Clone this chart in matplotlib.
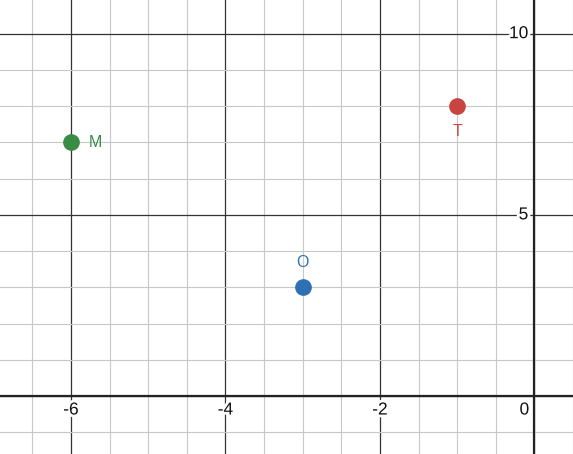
import numpy as np
import matplotlib.pyplot as plt
from matplotlib.ticker import MultipleLocator
import matplotlib.patheffects as pe

# Points
names = ["M", "T", "O"]
xs = [-6, -1, -3]
ys = [7, 8, 3]
colors = ["#388c46", "#c74440", "#2d70b3"]
# label offsets in pixels
offsets = [(18, 0), (0, -25), (0, 25)]

xticks = [-6, -4, -2]
yticks = [5, 10]

plt.rcParams['font.family'] = ['Liberation Sans', 'DejaVu Sans']

fig = plt.figure(figsize=(5.73, 4.54), dpi=100)
ax = fig.add_axes([0, 0, 1, 1])
ax.set_xlim(-6.918, 0.50)
ax.set_ylim(-1.60, 10.93)

# grid
ax.xaxis.set_minor_locator(MultipleLocator(0.5))
ax.yaxis.set_minor_locator(MultipleLocator(1))
ax.xaxis.set_major_locator(MultipleLocator(2))
ax.yaxis.set_major_locator(MultipleLocator(5))
ax.grid(which='minor', color='#c8c8c8', lw=0.8)
ax.grid(which='major', color='#333333', lw=0.9)
ax.tick_params(which='both', length=0, labelbottom=False, labelleft=False)
for s in ax.spines.values():
    s.set_visible(False)
ax.set_axisbelow(True)

ax.axhline(0, color='#222222', lw=1.6, zorder=2)
ax.axvline(0, color='#222222', lw=1.6, zorder=2)

halo = [pe.withStroke(linewidth=4, foreground='white')]
for t in xticks:
    ax.annotate(str(t), (t, 0), xytext=(0, -14), textcoords='offset pixels',
                ha='center', va='center', fontsize=12.5, color='#111111',
                path_effects=halo, zorder=3)
ax.annotate('0', (0, 0), xytext=(-10, -14), textcoords='offset pixels',
            ha='center', va='center', fontsize=12.5, color='#111111',
            path_effects=halo, zorder=3)
for t in yticks:
    ax.annotate(str(t), (0, t), xytext=(-6, 0), textcoords='offset pixels',
                ha='right', va='center', fontsize=12.5, color='#111111',
                path_effects=halo, zorder=3)

for n, x, y, c, off in zip(names, xs, ys, colors, offsets):
    ax.plot(x, y, 'o', color=c, ms=11, zorder=4)
    ax.annotate(n, (x, y), xytext=off, textcoords='offset pixels',
                ha='left' if off[0] else 'center', va='center',
                fontsize=11.5, color=c, zorder=4)

fig.savefig('out.png', dpi=100)
